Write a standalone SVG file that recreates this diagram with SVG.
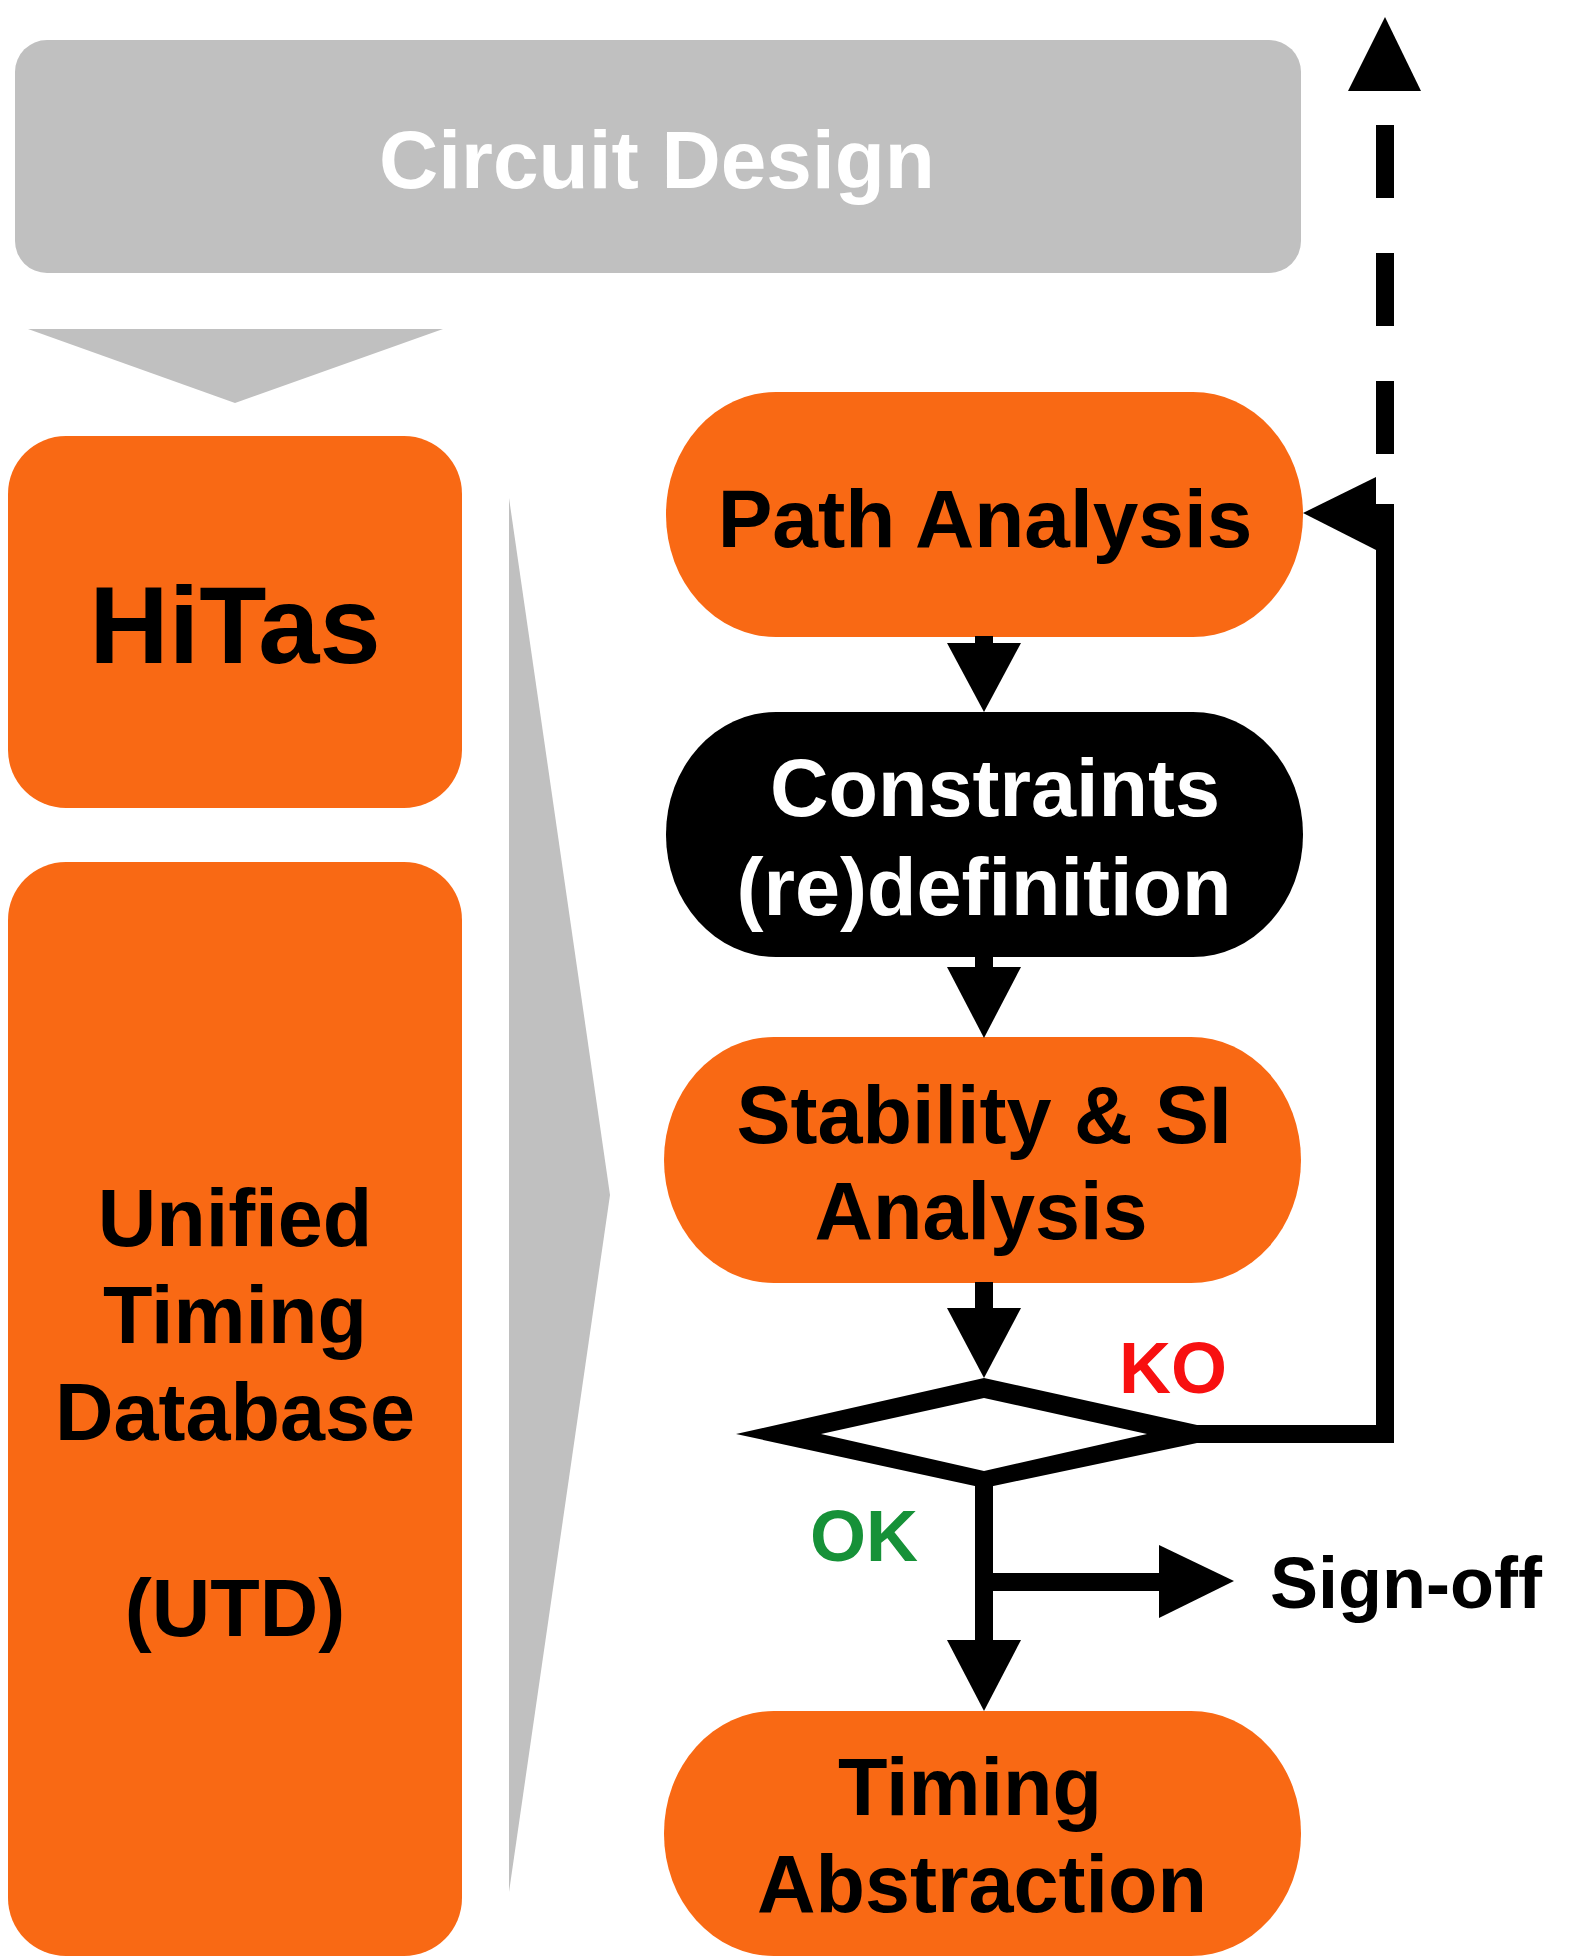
<svg xmlns="http://www.w3.org/2000/svg" width="1580" height="1960" viewBox="0 0 1580 1960">
<style>
text{font-family:"Liberation Sans",Arial,sans-serif;font-weight:bold;text-anchor:middle}
.org{fill:#F96914}
.gry{fill:#C0C0C0}
.blk{fill:#000000}
.line{stroke:#000;stroke-width:18;fill:none;stroke-linejoin:miter;stroke-linecap:butt}
</style>
<rect width="1580" height="1960" fill="#FFFFFF"/>
<g id="circuit-design">
<rect class="gry" x="15" y="40" width="1286" height="233" rx="32" ry="32"/>
<text x="657" y="188" font-size="82" fill="#FFFFFF">Circuit Design</text>
</g>
<g id="design-chevron">
<polygon class="gry" points="28,329 443,329 235,403"/>
</g>
<g id="hitas">
<rect class="org" x="8" y="436" width="454" height="372" rx="58" ry="58"/>
<text x="235" y="663" font-size="110" fill="#000">HiTas</text>
</g>
<g id="utd">
<rect class="org" x="8" y="862" width="454" height="1094" rx="58" ry="58"/>
<text x="235" y="1246" font-size="81" fill="#000">Unified</text>
<text x="235" y="1343" font-size="81" fill="#000">Timing</text>
<text x="235" y="1440" font-size="81" fill="#000">Database</text>
<text x="235" y="1636" font-size="81" fill="#000">(UTD)</text>
</g>
<g id="utd-wedge">
<polygon class="gry" points="509,498 610,1195 509,1892"/>
</g>
<g id="path-analysis">
<rect class="org" x="666" y="392" width="637" height="245" rx="110" ry="122"/>
<text x="985" y="547" font-size="82" fill="#000">Path Analysis</text>
</g>
<g id="constraints">
<rect class="blk" x="666" y="712" width="637" height="245" rx="110" ry="122"/>
<text x="995" y="816" font-size="81" fill="#FFFFFF">Constraints</text>
<text x="984" y="915" font-size="81" fill="#FFFFFF">(re)definition</text>
</g>
<g id="stability">
<rect class="org" x="664" y="1037" width="637" height="246" rx="110" ry="123"/>
<text x="984" y="1143" font-size="81" fill="#000">Stability &amp; SI</text>
<text x="981" y="1239" font-size="81" fill="#000">Analysis</text>
</g>
<g id="decision">
<polygon class="blk" points="984,1378 736,1434 984,1488 1197,1443 1197,1425"/>
<polygon fill="#FFFFFF" points="984,1398 821,1434 984,1471 1147,1434"/>
</g>
<g id="timing-abstraction">
<rect class="org" x="664" y="1711" width="637" height="245" rx="110" ry="122"/>
<text x="970" y="1815" font-size="81" fill="#000">Timing</text>
<text x="982" y="1912" font-size="81" fill="#000">Abstraction</text>
</g>
<g id="connectors">
<line class="line" x1="984" y1="636" x2="984" y2="644"/>
<polygon class="blk" points="947,643 1021,643 984,712"/>
<line class="line" x1="984" y1="956" x2="984" y2="968"/>
<polygon class="blk" points="947,967 1021,967 984,1038"/>
<line class="line" x1="984" y1="1282" x2="984" y2="1309"/>
<polygon class="blk" points="947,1308 1021,1308 984,1378"/>
<line class="line" x1="984" y1="1486" x2="984" y2="1641" stroke-width="20"/>
<polygon class="blk" points="947,1640 1021,1640 984,1711"/>
<line class="line" x1="984" y1="1582" x2="1160" y2="1582" stroke-width="20"/>
<polygon class="blk" points="1159,1545 1159,1618 1234,1581"/>
<path class="line" d="M1196,1434 H1385 V513 H1375"/>
<polygon class="blk" points="1303,513 1376,477 1376,550"/>
<line class="line" x1="1385" y1="454" x2="1385" y2="120" stroke-dasharray="73 55"/>
<polygon class="blk" points="1385,17 1348,91 1421,91"/>
<text x="1173" y="1393" font-size="72" fill="#F81010">KO</text>
<text x="864" y="1561" font-size="72" fill="#169138">OK</text>
<text x="1406" y="1608" font-size="72" fill="#000">Sign-off</text>
</g>
</svg>
